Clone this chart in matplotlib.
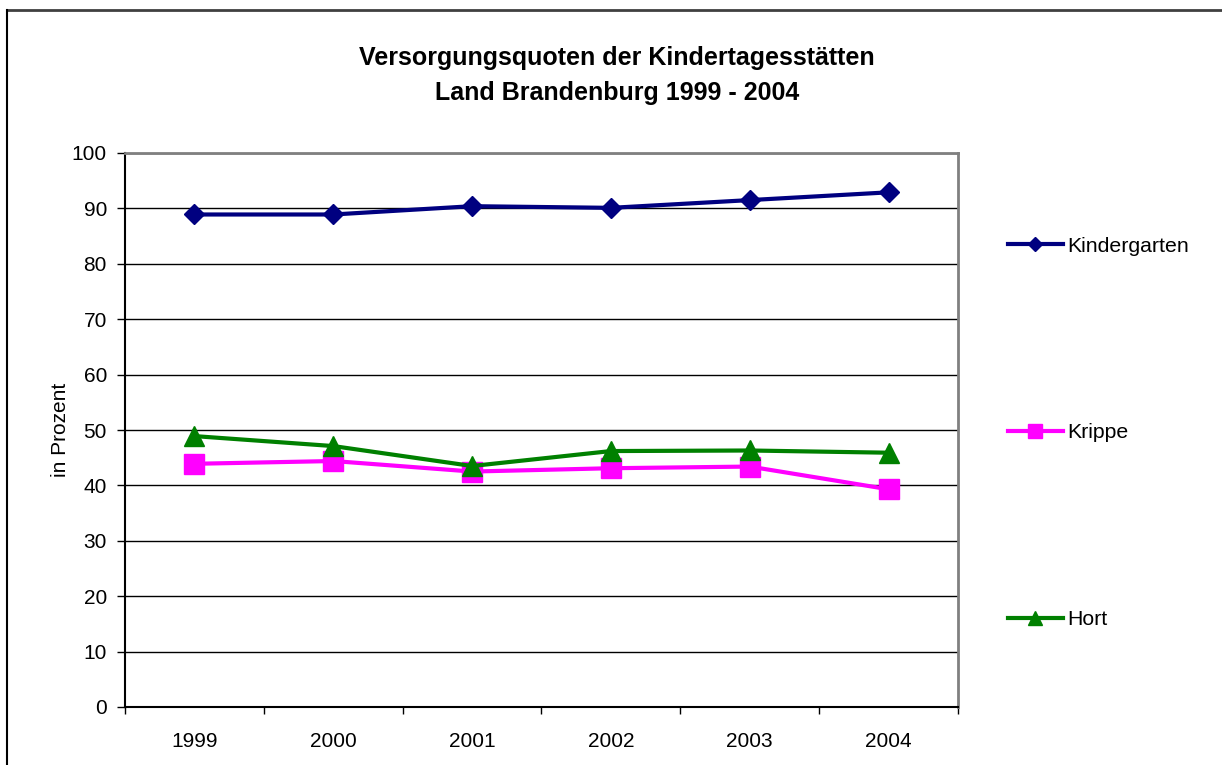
import matplotlib.pyplot as plt
from matplotlib.lines import Line2D

plt.rcParams['font.family'] = ['Liberation Sans', 'DejaVu Sans']

# data
years = ['1999', '2000', '2001', '2002', '2003', '2004']
kindergarten = [88.9, 88.9, 90.4, 90.1, 91.5, 92.9]
krippe = [43.9, 44.4, 42.5, 43.1, 43.4, 39.3]
hort = [48.9, 47.1, 43.5, 46.2, 46.3, 45.9]

W, H = 1222, 765
fig = plt.figure(figsize=(W / 100, H / 100), dpi=100)
ax = fig.add_axes([125 / W, 1 - 707 / H, (958 - 125) / W, (707 - 153) / H])

x = list(range(len(years)))
l1, = ax.plot(x, kindergarten, color='#000080', lw=3, marker='D', ms=10.5, label='Kindergarten')
l2, = ax.plot(x, krippe, color='#FF00FF', lw=3, marker='s', ms=14, label='Krippe')
l3, = ax.plot(x, hort, color='#008000', lw=3, marker='^', ms=14.5, label='Hort')

ax.set_xlim(-0.5, len(years) - 0.5)
ax.set_ylim(0, 100)
ax.set_yticks(range(0, 101, 10))
ax.set_xticks([i - 0.5 for i in range(len(years) + 1)])
ax.set_xticklabels([])
ax.set_xticks(x, minor=True)
ax.set_xticklabels(years, minor=True)
ax.tick_params(axis='x', which='minor', length=0, pad=18, labelsize=15)
ax.tick_params(axis='x', which='major', direction='out', length=5, width=1, color='black')
ax.tick_params(axis='y', direction='out', length=6, width=1, pad=7, labelsize=15)
ax.yaxis.grid(True, color='black', lw=1)
ax.set_axisbelow(True)

for s in ['top', 'right']:
    ax.spines[s].set_color('#808080')
    ax.spines[s].set_linewidth(2)
for s in ['left', 'bottom']:
    ax.spines[s].set_color('black')
    ax.spines[s].set_linewidth(1.5)

ax.set_ylabel('in Prozent', fontsize=15, labelpad=1)

fig.text(617 / W, 1 - 58 / H, 'Versorgungsquoten der Kindertagesstätten', ha='center', va='center',
         fontsize=18, fontweight='bold')
fig.text(617 / W, 1 - 93 / H, 'Land Brandenburg 1999 - 2004', ha='center', va='center',
         fontsize=18, fontweight='bold')

fig.legend(handles=[l1, l2, l3], loc='center left', bbox_to_anchor=(997 / W, 1 - 433 / H),
           frameon=False, fontsize=15.3, handlelength=2.6, handletextpad=0.2,
           labelspacing=7.9, borderpad=0, markerscale=0.7)

# outer chart border
fig.add_artist(Line2D([7.5 / W, 1], [1 - 10 / H, 1 - 10 / H], color='#404040', lw=2))
fig.add_artist(Line2D([7.5 / W, 7.5 / W], [0, 1 - 10 / H], color='black', lw=1.5))

fig.savefig('out.png', dpi=100)
